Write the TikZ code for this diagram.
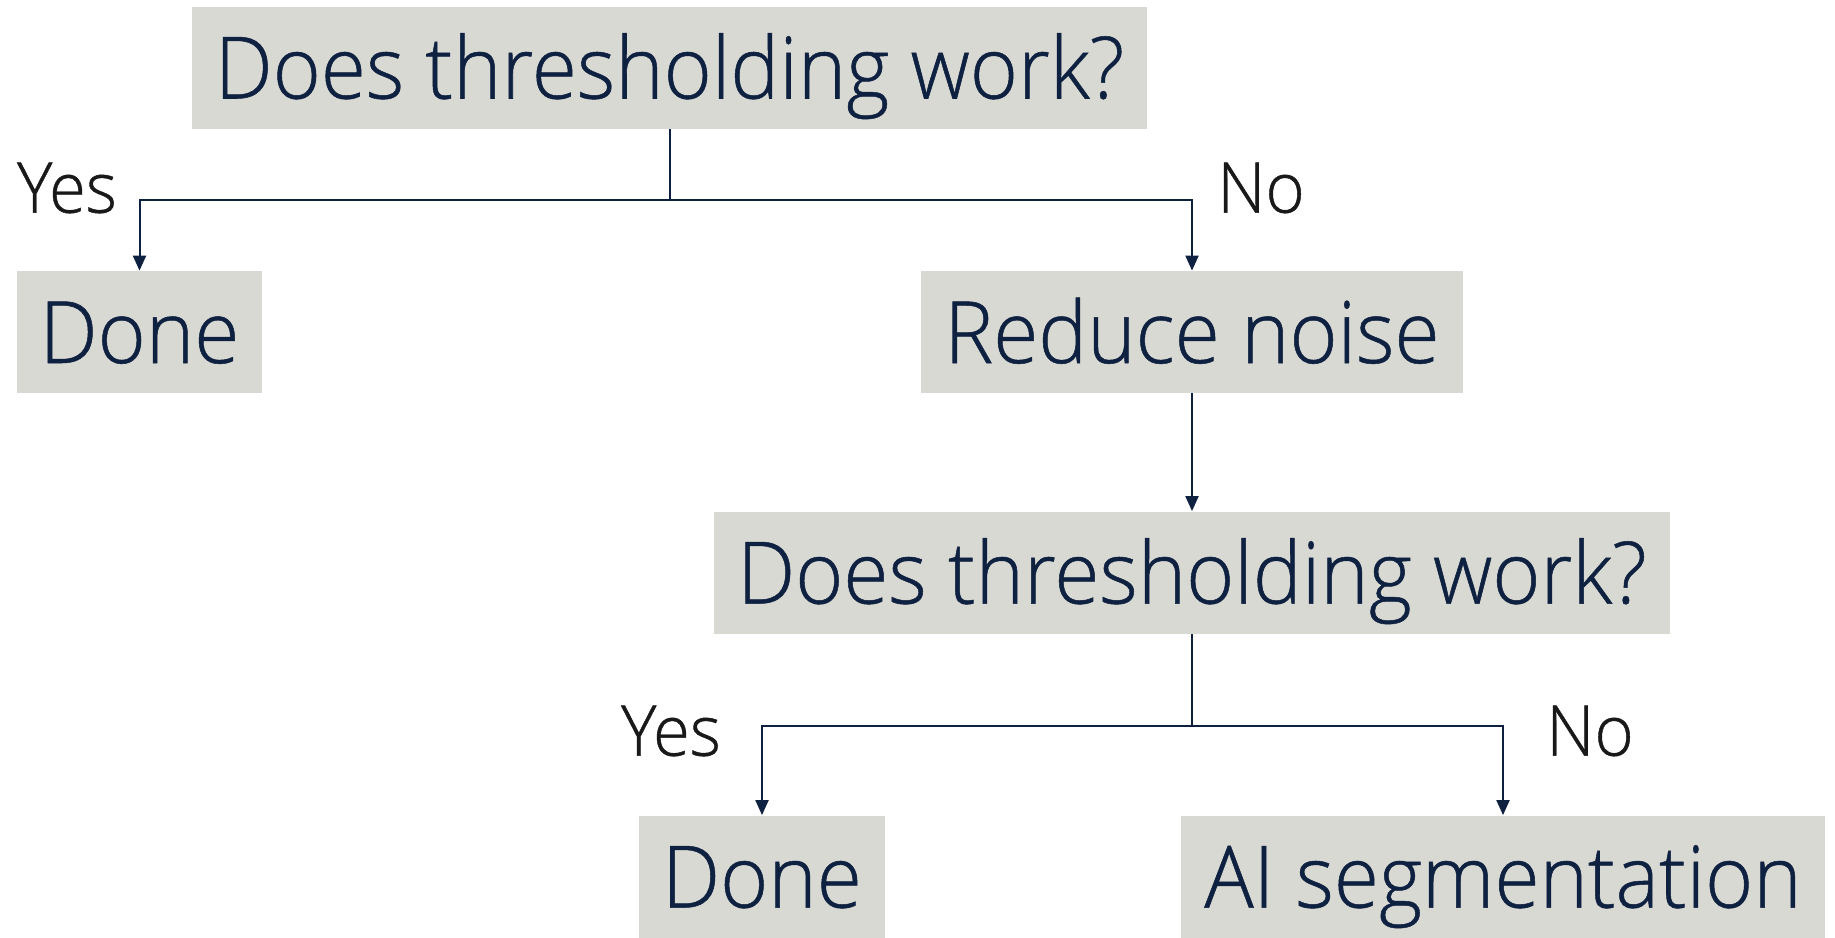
\documentclass[tikz,border=0pt]{standalone}
\usepackage{fontspec}
\setmainfont[FakeStretch=0.955,FakeBold=0.6,UprightFont=* Light]{Open Sans}
\usepackage{tikz}
\usetikzlibrary{arrows.meta}
\definecolor{boxgray}{RGB}{217,217,212}
\definecolor{navy}{RGB}{14,33,64}

\begin{document}
\begin{tikzpicture}[x=0.5pt,y=-0.5pt,
    box/.style={fill=boxgray,text=navy,font=\fontsize{43}{50}\selectfont,
      inner xsep=11.5pt,minimum height=61pt,text height=31pt,text depth=0pt},
    answer/.style={text=black!90,font=\fontsize{35}{40}\selectfont,inner sep=0pt},
    link/.style={draw=navy,line width=1pt,-{Triangle[width=6.5pt,length=7.5pt]}}]
        \useasboundingbox (0,0) rectangle (1835,937);

        % questions and steps
        \node[box] (q1) at (669.5,67.5) {Does thresholding work?};
        \node[box] (done1) at (139.5,332) {Done};
        \node[box] (noise) at (1192,332) {Reduce noise};
        \node[box] (q2) at (1192,572.5) {Does thresholding work?};
        \node[box] (done2) at (762,876.5) {Done};
        \node[box] (ai) at (1503,876.5) {AI segmentation};

        % answers
        \node[answer] (yes1) at (67,188) {Yes};
        \node[answer] (no1) at (1261,188) {No};
        \node[answer] (yes2) at (671,731) {Yes};
        \node[answer] (no2) at (1590,731) {No};

        \coordinate (j1) at (669.5,200);
        \coordinate (j2) at (1192,726);
        \draw[navy,line width=1pt] (q1.south) -- (j1);
        \draw[link] (j1) -| (done1.north);
        \draw[link] (j1) -| (noise.north);
        \draw[link] (noise.south) -- (q2.north);
        \draw[navy,line width=1pt] (q2.south) -- (j2);
        \draw[link] (j2) -| (done2.north);
        \draw[link] (j2) -| (ai.north);
\end{tikzpicture}
\end{document}
